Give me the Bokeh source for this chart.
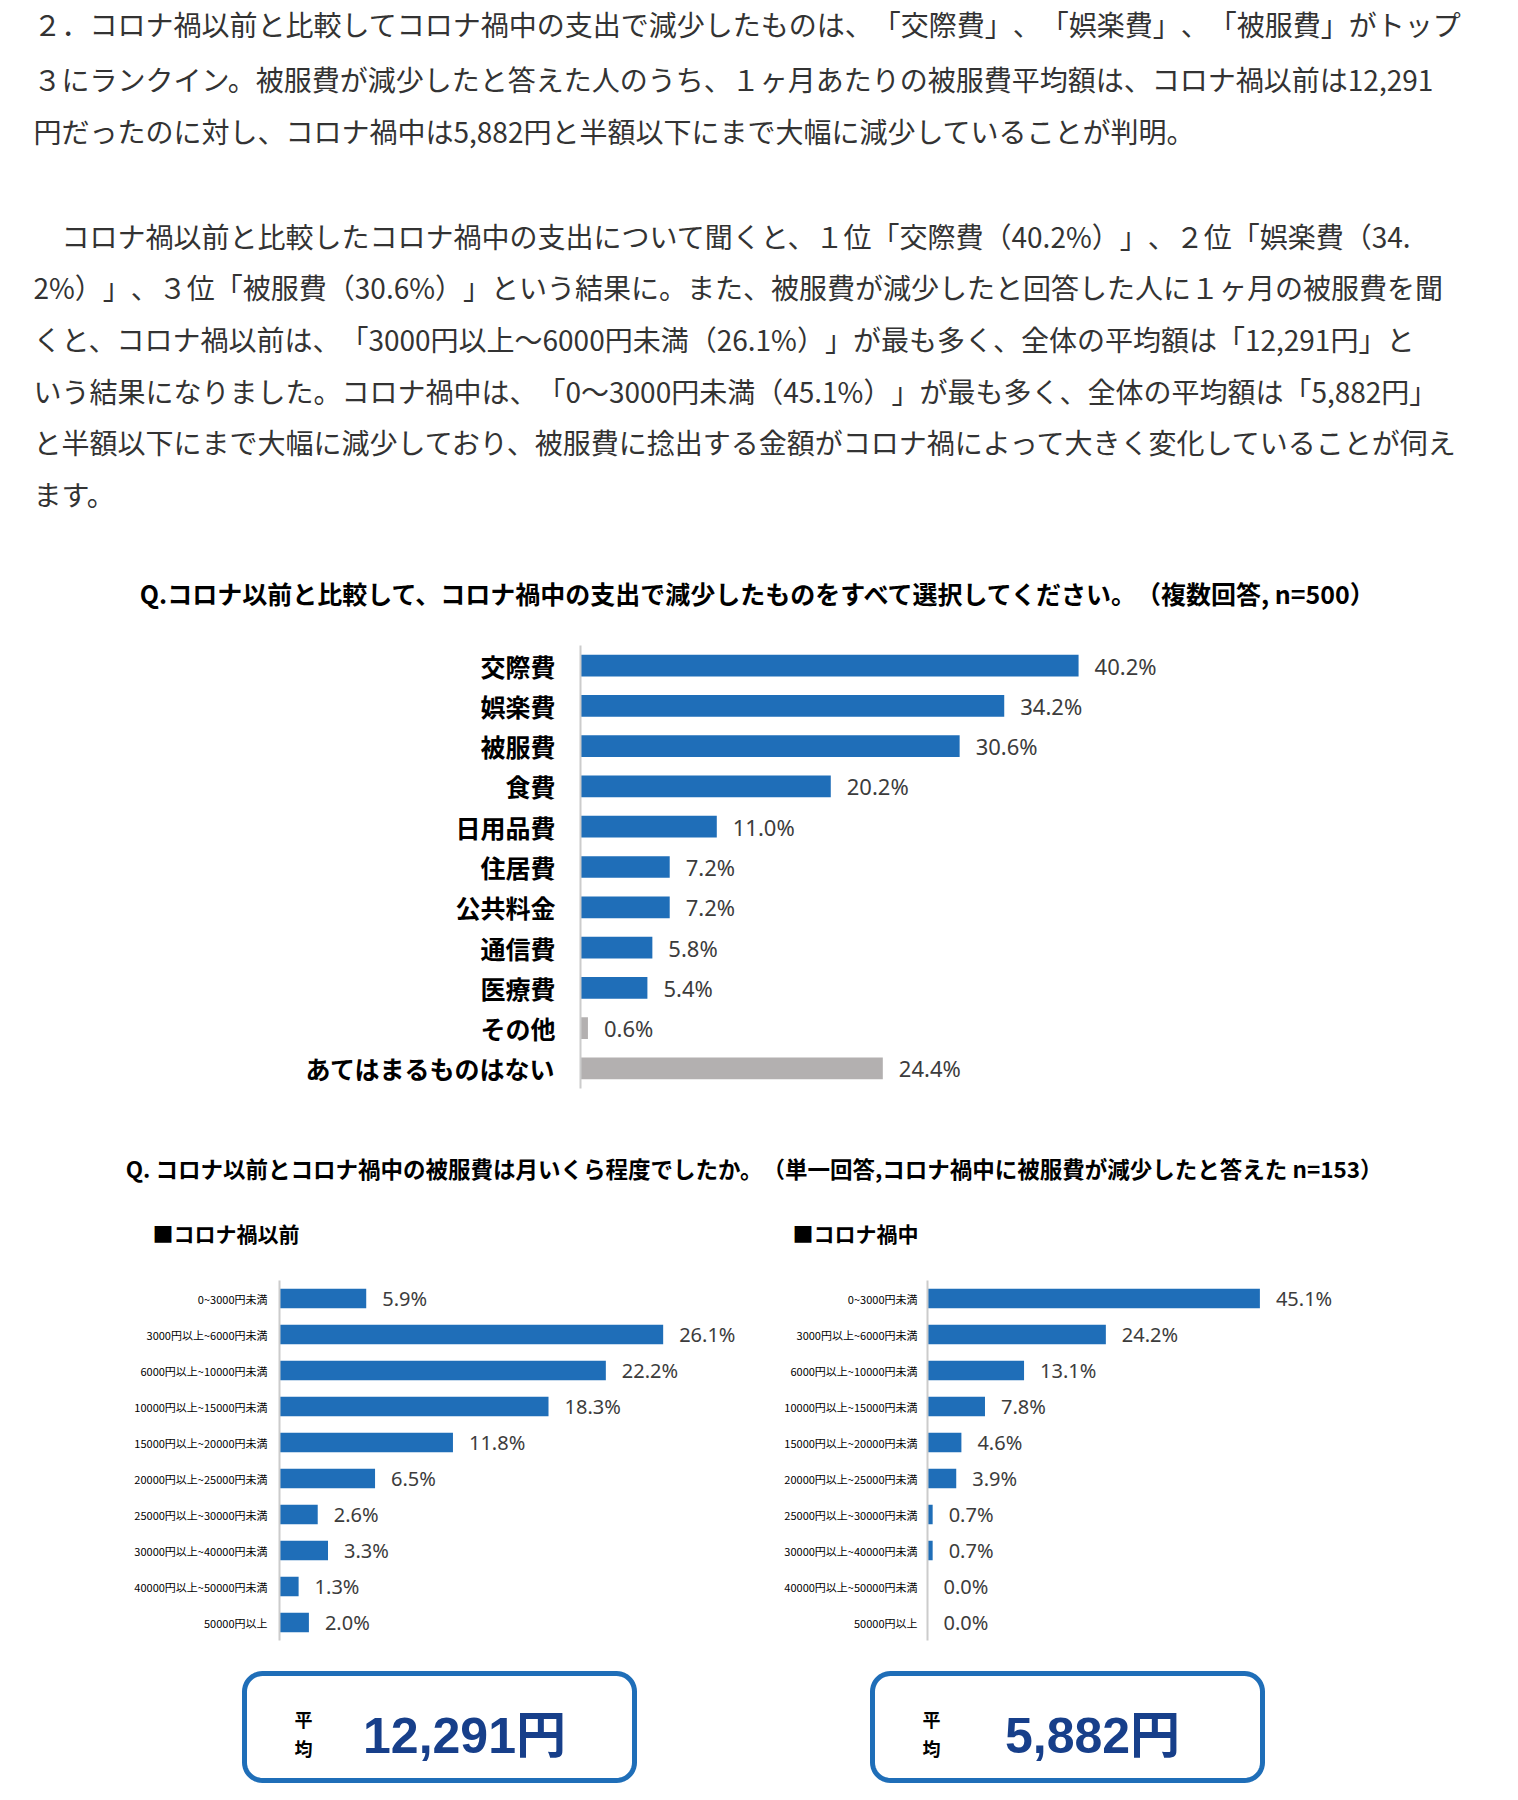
import numpy as np
from bokeh.plotting import figure
from bokeh.models import Range1d, FactorRange, ColumnDataSource, InlineStyleSheet
from bokeh.layouts import column, row
from bokeh.core.properties import value
from bokeh.embed import file_html
from bokeh.resources import INLINE

# ---------------- data ----------------
q1_categories = ["交際費", "娯楽費", "被服費", "食費", "日用品費", "住居費",
                 "公共料金", "通信費", "医療費", "その他", "あてはまるものはない"]
q1_values = [40.2, 34.2, 30.6, 20.2, 11.0, 7.2, 7.2, 5.8, 5.4, 0.6, 24.4]

price_bands = ["0~3000円未満", "3000円以上~6000円未満", "6000円以上~10000円未満",
               "10000円以上~15000円未満", "15000円以上~20000円未満",
               "20000円以上~25000円未満", "25000円以上~30000円未満",
               "30000円以上~40000円未満", "40000円以上~50000円未満", "50000円以上"]
before_values = [5.9, 26.1, 22.2, 18.3, 11.8, 6.5, 2.6, 3.3, 1.3, 2.0]
during_values = [45.1, 24.2, 13.1, 7.8, 4.6, 3.9, 0.7, 0.7, 0.0, 0.0]

average_labels = ["12,291円", "5,882円"]
panel_titles = ["■コロナ禍以前", "■コロナ禍中"]

body_lines = [
    "２．コロナ禍以前と比較してコロナ禍中の支出で減少したものは、「交際費」、「娯楽費」、「被服費」がトップ",
    "３にランクイン。被服費が減少したと答えた人のうち、１ヶ月あたりの被服費平均額は、コロナ禍以前は12,291",
    "円だったのに対し、コロナ禍中は5,882円と半額以下にまで大幅に減少していることが判明。",
    "　コロナ禍以前と比較したコロナ禍中の支出について聞くと、１位「交際費（40.2%）」、２位「娯楽費（34.",
    "2%）」、３位「被服費（30.6%）」という結果に。また、被服費が減少したと回答した人に１ヶ月の被服費を聞",
    "くと、コロナ禍以前は、「3000円以上～6000円未満（26.1%）」が最も多く、全体の平均額は「12,291円」と",
    "いう結果になりました。コロナ禍中は、「0～3000円未満（45.1%）」が最も多く、全体の平均額は「5,882円」",
    "と半額以下にまで大幅に減少しており、被服費に捻出する金額がコロナ禍によって大きく変化していることが伺え",
    "ます。",
]
q1_title = "Q.コロナ以前と比較して、コロナ禍中の支出で減少したものをすべて選択してください。（複数回答, n=500）"
q2_title = "Q. コロナ以前とコロナ禍中の被服費は月いくら程度でしたか。（単一回答,コロナ禍中に被服費が減少したと答えた n=153）"

# ---------------- styles ----------------
JP = value("Noto Sans CJK JP")
NUM = value("'Noto Sans', 'Noto Sans CJK JP'")
BIG = value("'Liberation Sans', 'Noto Sans CJK JP'")
BLUE = "#1f6eb8"
GRAY = "#b3b0b0"
AXIS = "#cccccc"
TOTAL_W = 1502
NO_TRIM = ":host, :host * { text-spacing-trim: space-all; }"


def canvas(w, h):
    p = figure(width=w, height=h, x_range=Range1d(0, w), y_range=Range1d(h, 0),
               output_backend="svg", toolbar_location=None, min_border=0,
               x_axis_location=None, y_axis_location=None)
    p.grid.visible = False
    p.outline_line_color = None
    p.stylesheets = [InlineStyleSheet(css=NO_TRIM)]
    return p


def bar_chart(w, h, cats, vals, colors, x_end, left, right, top, bottom,
              label_size, standoff, label_style, value_size):
    p = figure(width=w, height=h, y_range=FactorRange(factors=cats[::-1]),
               x_range=Range1d(0, x_end), output_backend="svg",
               toolbar_location=None, x_axis_location=None,
               min_border_left=left, min_border_right=right,
               min_border_top=top, min_border_bottom=bottom)
    p.grid.visible = False
    p.outline_line_color = None
    src = ColumnDataSource(dict(cat=cats, val=vals, color=colors,
                                lab=[f"{v:.1f}%" for v in vals]))
    p.hbar(y="cat", right="val", left=0, height=0.54, fill_color="color",
           line_color=None, source=src)
    p.text(x="val", y="cat", text="lab", source=src, x_offset=16,
           text_baseline="middle", text_align="left", text_color="#3c3c3c",
           text_font=NUM, text_font_size=value_size)
    ax = p.yaxis[0]
    ax.axis_line_color = AXIS
    ax.axis_line_width = 2
    ax.major_tick_line_color = None
    ax.minor_tick_line_color = None
    ax.major_tick_in = 0
    ax.major_tick_out = 0
    ax.major_label_standoff = standoff
    ax.major_label_text_font = "Noto Sans CJK JP"
    ax.major_label_text_font_size = label_size
    ax.major_label_text_font_style = label_style
    ax.major_label_text_color = "#000000"
    return p


# ---------- section A: body text + Q1 title ----------
pa = canvas(TOTAL_W, 628)
line_y = [23, 78, 130, 235, 286, 338, 390, 441, 493]
pa.text(x=[33] * len(body_lines), y=line_y, text=body_lines, text_font=JP,
        text_font_size="28px", text_color="#333333", text_baseline="middle")
pa.text(x=[753], y=[592], text=[q1_title], text_font=JP, text_font_size="25px",
        text_font_style="bold", text_color="#000000", text_align="center",
        text_baseline="middle")

# ---------- section B: Q1 bar chart ----------
q1_colors = [BLUE] * 9 + [GRAY] * 2
pb = bar_chart(TOTAL_W, 480, q1_categories, q1_values, q1_colors, 902 / 12.39,
               580, 20, 17, 20, "25px", 25, "bold", "22px")

# ---------- section C: Q2 title + panel titles ----------
pc = canvas(TOTAL_W, 161)
pc.text(x=[748], y=[59], text=[q2_title], text_font=JP, text_font_size="22.5px",
        text_font_style="bold", text_color="#000000", text_align="center",
        text_baseline="middle")
pc.text(x=[152, 792], y=[124, 124], text=panel_titles, text_font=JP,
        text_font_size="21px", text_font_style="bold", text_color="#000000",
        text_baseline="middle")

# ---------- section D: two bar charts ----------
pl = bar_chart(762, 399, price_bands, before_values, [BLUE] * 10, 463 / 14.7,
               279, 20, 11, 28, "11px", 12, "normal", "20px")
pr = bar_chart(740, 399, price_bands, during_values, [BLUE] * 10, 555 / 7.37,
               165, 20, 11, 28, "11px", 10, "normal", "20px")

# ---------- section E: average boxes ----------
pe = canvas(TOTAL_W, 116)


def rounded_rect(x0, y0, x1, y1, r, n=12):
    xs, ys = [], []
    corners = [(x1 - r, y0 + r, -np.pi / 2, 0), (x1 - r, y1 - r, 0, np.pi / 2),
               (x0 + r, y1 - r, np.pi / 2, np.pi), (x0 + r, y0 + r, np.pi, 1.5 * np.pi)]
    for cx, cy, a0, a1 in corners:
        t = np.linspace(a0, a1, n)
        xs.extend(cx + r * np.cos(t))
        ys.extend(cy + r * np.sin(t))
    return xs, ys


box_lefts = [244, 872]
for bx, lab in zip(box_lefts, average_labels):
    xs, ys = rounded_rect(bx, 5, bx + 390, 112, 18)
    pe.patch(xs, ys, fill_color="white", line_color=BLUE, line_width=5)
    pe.text(x=[bx + 59, bx + 59], y=[50, 79], text=["平", "均"], text_font=JP,
            text_font_size="18px", text_font_style="bold", text_color="#000000",
            text_align="center", text_baseline="middle")
    pe.text(x=[bx + 220], y=[67], text=[lab], text_font=BIG,
            text_font_size="50px", text_font_style="bold", text_color="#173f8a",
            text_align="center", text_baseline="middle")

layout = column(row(pa), row(pb), row(pc), row(pl, pr), row(pe))
open("out.html", "w").write(file_html(layout, INLINE))
